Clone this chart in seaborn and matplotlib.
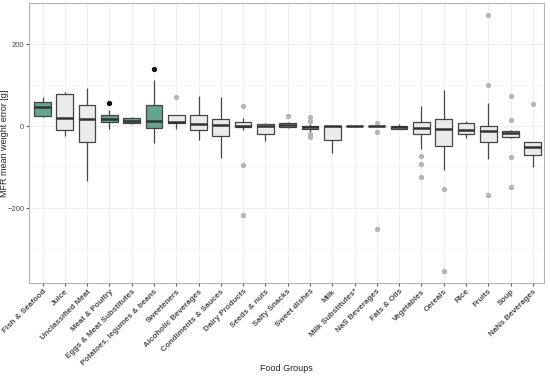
import matplotlib
matplotlib.use("Agg")
import matplotlib.pyplot as plt
import seaborn as sns
import pandas as pd

# Food groups (x axis order)
groups = ["Fish & Seafood", "Juice", "Unclassified Meat", "Meat & Poultry",
          "Eggs & Meat Substitutes", "Potatoes, legumes & beans", "Sweeteners",
          "Alcoholic Beverages", "Condiments & Sauces", "Dairy Products",
          "Seeds & nuts", "Salty Snacks", "Sweet dishes", "Milk",
          "Milk Substitutes*", "NaS Beverages", "Fats & Oils", "Vegetables",
          "Cereals", "Rice", "Fruits", "Soup", "NaNs Beverages"]

# highlighted groups (green)
highlighted = ["Fish & Seafood", "Meat & Poultry", "Eggs & Meat Substitutes",
               "Potatoes, legumes & beans"]

# mean weight error per recipe [g], estimated from the figure
fish_seafood = [21, 25, 46, 59, 72]
juice = [-24, -10, 20, 78, 83]
unclassified_meat = [-134, -40, 16, 52, 92]
meat_poultry = [-6, 5, 11, 14, 17, 22, 28, 40, 57]
eggs_meat_subst = [6, 7, 13, 19, 21]
potatoes_legumes = [-42, -20, -4, 5, 12, 30, 52, 112, 139]
sweeteners = [-6, 2, 7, 9, 10, 20, 28, 28, 70]
alcoholic_bev = [-35, -10, 5, 26, 73]
condiments = [-78, -24, 2, 16, 70]
dairy = [-217, -94, -10, -2, -1, 0, 1, 4, 6, 9, 12, 19, 49]
seeds_nuts = [-37, -19, 0, 6, 8]
salty_snacks = [-4, -3, -2, 1, 3, 5, 6.5, 9, 24]
sweet_dishes = [-26, -20, -14, -7, -5, -3, -2, -1.5, -0.5, 0, 6, 12, 21]
milk = [-65, -34, 0, 0, 0]
milk_subst = [-1, -0.5, 0, 0.5, 1]
nas_bev = [-251, -15, -1, 0, 0, 0, 1, 1, 6.5]
fats_oils = [-7, -6, -3, 0, 5]
vegetables = [-124, -93, -72, -57, -20, -15, -10, -7, -5, 0, 3, 6, 9, 20, 30, 40, 50]
cereals = [-353, -154, -106, -48, -30, -15, -7, 0, 8, 16, 40, 60, 89]
rice = [-30, -20, -9, 6.5, 12]
fruits = [-167, -81, -60, -40, -30, -20, -13, -8, -3, 1, 55, 99, 270]
soup = [-148, -76, -28, -26, -22, -19, -17, -15, -13, -11, -9, 15, 74]
nans_bev = [-101, -80, -71, -60, -50, -45, -38, -38, 54]

values = [fish_seafood, juice, unclassified_meat, meat_poultry, eggs_meat_subst,
          potatoes_legumes, sweeteners, alcoholic_bev, condiments, dairy,
          seeds_nuts, salty_snacks, sweet_dishes, milk, milk_subst, nas_bev,
          fats_oils, vegetables, cereals, rice, fruits, soup, nans_bev]

rows = []
for g, vals in zip(groups, values):
    for v in vals:
        rows.append({"group": g, "error": v})
df = pd.DataFrame(rows)

green = "#5aae98"
grey_fill = "#ebebeb"
edge = "#444444"

plt.rcParams["font.family"] = ["Liberation Sans", "DejaVu Sans"]
fig = plt.figure(figsize=(5.5, 3.76), dpi=100)
ax = fig.add_axes([0.053, 0.247, 0.936, 0.745])

common = dict(x="group", y="error", order=groups, width=0.75, linewidth=0.9,
              linecolor=edge, showcaps=False, ax=ax,
              medianprops=dict(color="#333333", linewidth=1.8),
              whiskerprops=dict(color=edge, linewidth=0.9))

sns.boxplot(data=df[df["group"].isin(highlighted)], color=green,
            flierprops=dict(marker="o", markersize=2.8, markerfacecolor="#111111",
                            markeredgecolor="#111111"), **common)
sns.boxplot(data=df[~df["group"].isin(highlighted)], color=grey_fill,
            flierprops=dict(marker="o", markersize=2.8, markerfacecolor="#b5b5b5",
                            markeredgecolor="#b5b5b5"), **common)

ax.set_xlim(-0.6, 22.5)
ax.set_ylim(-383, 300)
ax.set_yticks([-200, 0, 200])
ax.set_yticks([-300, -100, 100], minor=True)
ax.grid(which="major", color="#ebebeb", linewidth=0.6)
ax.grid(which="minor", axis="y", color="#f2f2f2", linewidth=0.4)
ax.set_axisbelow(True)
for s in ax.spines.values():
    s.set_color("#b3b3b3")
    s.set_linewidth(0.8)

ax.tick_params(axis="both", which="major", length=2, color="#555555",
               labelsize=5.5, labelcolor="#4d4d4d", pad=1.5)
ax.tick_params(axis="y", which="minor", length=0)
ax.set_xticks(range(len(groups)))
ax.set_xticklabels(groups, rotation=45, ha="right", rotation_mode="anchor",
                   fontweight="bold", fontsize=5.8, color="#4d4d4d")
ax.set_xlabel("Food Groups", fontsize=6.5, color="#222222")
ax.set_ylabel("MFR mean weight error [g]", fontsize=6.5, color="#222222")
ax.yaxis.set_label_coords(-0.04, 0.5)
ax.xaxis.set_label_coords(0.5, -0.29)

fig.savefig("out.png", dpi=100)
